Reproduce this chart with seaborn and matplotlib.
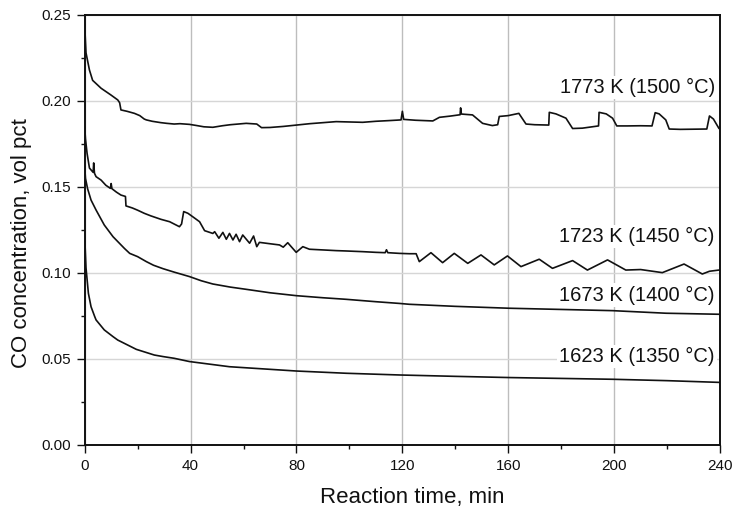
import matplotlib
matplotlib.use("Agg")
import matplotlib.pyplot as plt
import seaborn as sns
import pandas as pd
from matplotlib.ticker import MultipleLocator

# ---- data ----
t_1773 = [0, 0.1, 0.5, 1.8, 3, 6.2, 9.9, 12.5, 13.2, 13.7, 16, 18.8, 20.8, 22.5, 23.3, 25.5,
          28.8, 31, 33.8, 36, 39.6, 42, 45, 48.4, 52, 55, 58, 61, 63, 65, 66.8, 70, 75, 80,
          85, 90, 95, 100, 105, 110, 115, 119.5, 120, 120.5, 125, 131.5, 134, 138, 141.8,
          142, 142.3, 146.5, 150.3, 154, 156, 156.6, 160, 164, 166.7, 170, 175.3, 175.5,
          178, 181.8, 184.3, 188, 194.1, 194.3, 197, 199.4, 201, 205, 210, 214.3, 215.5,
          217, 219.5, 220.8, 225, 230, 235, 236, 237.5, 239.6, 240]
c_1773 = [0.245, 0.241, 0.228, 0.218, 0.212, 0.2074, 0.2035, 0.2006, 0.199, 0.1948, 0.194,
          0.1928, 0.1915, 0.1895, 0.189, 0.1882, 0.1874, 0.187, 0.1866, 0.1868, 0.1864,
          0.1858, 0.185, 0.1847, 0.1856, 0.1862, 0.1866, 0.187, 0.1868, 0.1866, 0.1845,
          0.1846, 0.1852, 0.186, 0.1868, 0.1874, 0.188, 0.1878, 0.1876, 0.1882, 0.1886,
          0.189, 0.194, 0.1893, 0.1888, 0.1884, 0.1905, 0.1912, 0.192, 0.196, 0.1924,
          0.1919, 0.187, 0.1857, 0.1862, 0.191, 0.1915, 0.1928, 0.1866, 0.1862, 0.186,
          0.1934, 0.1925, 0.19, 0.184, 0.1842, 0.1855, 0.1934, 0.1925, 0.19, 0.1855,
          0.1855, 0.1856, 0.1855, 0.1932, 0.1925, 0.189, 0.1837, 0.1835, 0.1836, 0.1837,
          0.1913, 0.1895, 0.184, 0.184]

t_1723 = [0, 0.3, 0.9, 1.8, 3.2, 3.4, 3.7, 4.3, 6.2, 8, 9.7, 10, 10.3, 12, 13.7, 15.4, 15.6,
          18, 20, 22.5, 25, 28.8, 32.1, 35.8, 36.6, 37.4, 39, 41, 43.4, 45.3, 48.4, 49.1,
          50.7, 52.2, 53.5, 54.7, 56, 57.2, 58.5, 59.7, 62.3, 63.8, 65, 66, 70, 73.6, 75,
          76.7, 79.9, 82.4, 84.9, 90, 95, 98.7, 105, 110, 113.5, 114, 114.5, 118.9, 122.6,
          125.2, 126.4, 130.8, 135.2, 139.6, 144.7, 149.7, 154.7, 159.7, 164.8, 171.7,
          176.7, 184.3, 189.9, 197.5, 204.4, 210, 218.2, 226.4, 233.3, 236, 239.6, 240]
c_1723 = [0.185, 0.178, 0.1696, 0.161, 0.1585, 0.164, 0.158, 0.156, 0.154, 0.151, 0.1492,
          0.152, 0.149, 0.147, 0.1453, 0.1445, 0.139, 0.1378, 0.1365, 0.1347, 0.1332,
          0.1312, 0.1298, 0.1269, 0.1285, 0.1357, 0.1347, 0.1325, 0.1298, 0.1246, 0.123,
          0.124, 0.1202, 0.1236, 0.1196, 0.123, 0.1192, 0.1225, 0.1182, 0.1221, 0.1173,
          0.1215, 0.1153, 0.1178, 0.117, 0.1163, 0.115, 0.1176, 0.112, 0.1153, 0.1138,
          0.1134, 0.113, 0.1128, 0.1124, 0.112, 0.1118, 0.1135, 0.1118, 0.1114, 0.1112,
          0.1112, 0.1066, 0.1118, 0.106, 0.1114, 0.1056, 0.1105, 0.1047, 0.1099, 0.1037,
          0.108, 0.1027, 0.1072, 0.1017, 0.1076, 0.1017, 0.102, 0.1002, 0.1052, 0.0994,
          0.101, 0.1017, 0.1017]

t_1673 = [0, 0.3, 1.1, 2.4, 4.3, 7.4, 10.7, 15, 17, 20, 23.3, 26, 29.6, 33.8, 39.6, 44, 48.4,
          55, 61, 70, 80, 90, 98.7, 110, 118.9, 122.6, 140, 160.4, 180, 199.4, 219.6, 239.6, 240]
c_1673 = [0.162, 0.155, 0.149, 0.1424, 0.1366, 0.1279, 0.1211, 0.1143, 0.1114, 0.1095,
          0.1066, 0.1045, 0.1025, 0.1005, 0.0979, 0.0955, 0.0936, 0.0918, 0.0905, 0.0885,
          0.0868, 0.0856, 0.0847, 0.0833, 0.0823, 0.0818, 0.0806, 0.0795, 0.0788, 0.0781,
          0.0766, 0.076, 0.076]

t_1623 = [0, 0.1, 0.5, 1.4, 2.4, 3.8, 4.3, 7.4, 10.7, 12.5, 19.5, 26.3, 29.6, 33.8, 39.6,
          54.7, 80, 98.7, 118.9, 140, 160.4, 180, 199.4, 220, 239.6, 240]
c_1623 = [0.121, 0.118, 0.103, 0.0882, 0.0804, 0.0746, 0.0727, 0.0669, 0.063, 0.061, 0.0556,
          0.0523, 0.0514, 0.0504, 0.0485, 0.0455, 0.043, 0.0417, 0.0407, 0.0399, 0.0392,
          0.0387, 0.0382, 0.0374, 0.0364, 0.0364]

series_labels = ["1773 K (1500 \u00b0C)", "1723 K (1450 \u00b0C)",
                 "1673 K (1400 \u00b0C)", "1623 K (1350 \u00b0C)"]
label_x = [238, 238, 238, 238]
label_y = [0.2076, 0.1211, 0.0872, 0.0517]

x_ticks = [0, 40, 80, 120, 160, 200, 240]
y_ticks = [0.00, 0.05, 0.10, 0.15, 0.20, 0.25]
x_title = "Reaction time, min"
y_title = "CO concentration, vol pct"

# ---- styling ----
sns.set_theme(style="ticks")
plt.rcParams["font.family"] = ["Liberation Sans", "DejaVu Sans"]

fig = plt.figure(figsize=(7.37, 5.24), dpi=100)
ax = fig.add_axes([0.1149, 0.1508, 0.8621, 0.8206])

all_t = [t_1773, t_1723, t_1673, t_1623]
all_c = [c_1773, c_1723, c_1673, c_1623]
for tt, cc, lab in zip(all_t, all_c, series_labels):
    df = pd.DataFrame({"t": tt, "c": cc})
    sns.lineplot(data=df, x="t", y="c", ax=ax, color="#111111", linewidth=1.2,
                 estimator=None, sort=False, legend=False, zorder=3)

ax.set_xlim(0, 240)
ax.set_ylim(0, 0.25)
ax.set_xticks(x_ticks)
ax.set_yticks(y_ticks)
ax.set_xticklabels([str(v) for v in x_ticks])
ax.set_yticklabels([f"{v:.2f}" for v in y_ticks])
ax.xaxis.set_minor_locator(MultipleLocator(20))
ax.yaxis.set_minor_locator(MultipleLocator(0.025))

ax.tick_params(axis="both", which="major", direction="out", length=5.8, width=1.0,
               color="#111111", labelsize=11, labelcolor="#111111")
ax.tick_params(axis="x", which="major", pad=4.3)
ax.tick_params(axis="y", which="major", pad=3.8)
ax.tick_params(axis="both", which="minor", direction="out", length=3.0, width=1.0,
               color="#111111")

ax.set_axisbelow(True)
ax.xaxis.grid(True, which="major", color="#bdbdbd", linewidth=1.0)
ax.yaxis.grid(True, which="major", color="#d6d6d6", linewidth=1.0)

for s in ax.spines.values():
    s.set_visible(True)
    s.set_color("#111111")
    s.set_linewidth(1.4)

ax.set_xlabel(x_title, fontsize=16, va="center", color="#111111")
ax.set_ylabel(y_title, fontsize=16, va="center", color="#111111")
ax.xaxis.set_label_coords(0.515, -0.121)
ax.yaxis.set_label_coords(-0.1, 0.47)

for lab, lx, ly in zip(series_labels, label_x, label_y):
    ax.text(lx, ly, lab, ha="right", va="center", fontsize=14.5, color="#111111",
            zorder=4, bbox=dict(facecolor="white", edgecolor="none", pad=1.5))

fig.savefig("out.png", dpi=100)
